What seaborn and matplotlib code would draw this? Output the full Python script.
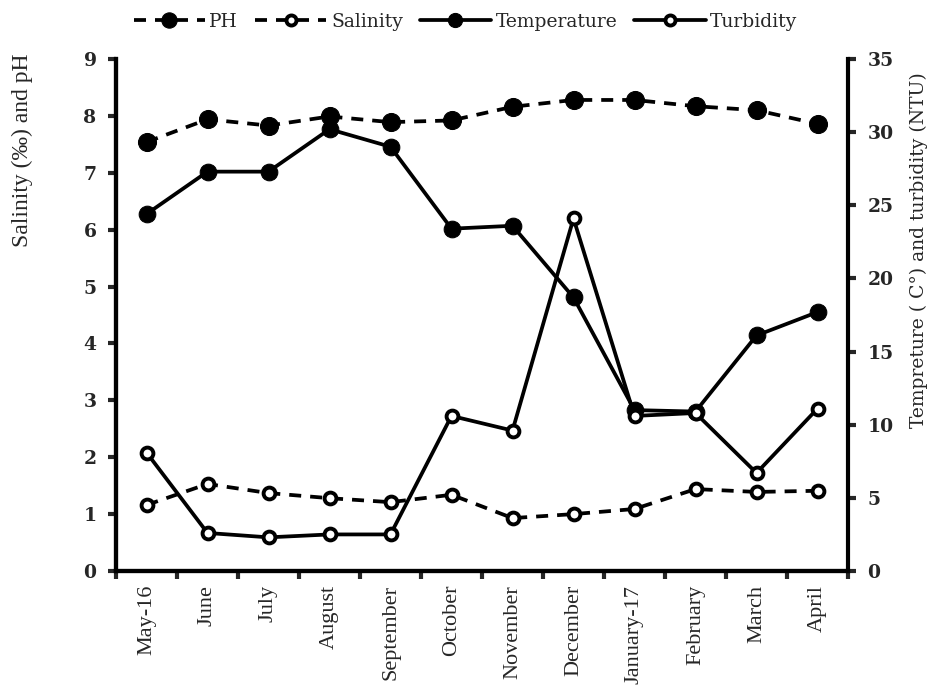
import numpy as np
import pandas as pd
import matplotlib
matplotlib.use("Agg")
import matplotlib.pyplot as plt
import seaborn as sns

months = ["May-16", "June", "July", "August", "September", "October",
          "November", "December", "January-17", "February", "March", "April"]
ph = [7.54, 7.94, 7.83, 7.99, 7.89, 7.92, 8.16, 8.28, 8.28, 8.17, 8.10, 7.86]
salinity = [1.16, 1.53, 1.37, 1.28, 1.21, 1.34, 0.93, 1.00, 1.09, 1.44, 1.39, 1.41]
temperature = [24.4, 27.3, 27.3, 30.2, 29.0, 23.4, 23.6, 18.7, 11.0, 10.9, 16.1, 17.7]
turbidity = [8.1, 2.6, 2.3, 2.5, 2.5, 10.6, 9.6, 24.1, 10.6, 10.8, 6.7, 11.1]

left_ticks = list(range(0, 10))
right_ticks = list(range(0, 40, 5))

sns.set_theme(style="ticks")
plt.rcParams['font.family'] = ['Liberation Serif', 'DejaVu Serif']

df = pd.DataFrame({"pos": np.arange(len(months)), "month": months, "PH": ph,
                   "Salinity": salinity, "Temperature": temperature,
                   "Turbidity": turbidity})

fig = plt.figure(figsize=(9.31, 6.85), dpi=100)
ax = fig.add_axes([116/931, 1 - 571/685, (848-116)/931, (571-59)/685])
ax2 = ax.twinx()

lw = 2.7
dash = (0, (3.2, 2.4))
sns.lineplot(data=df, x="pos", y="PH", ax=ax, color="black", lw=lw,
             linestyle=dash, marker="o", markersize=13, mfc="black", mec="black",
             sort=False, label="PH", legend=False)
sns.lineplot(data=df, x="pos", y="Salinity", ax=ax, color="black", lw=lw,
             linestyle=dash, marker="o", markersize=8.5, mfc="white", mec="black",
             mew=2.8, sort=False, label="Salinity", legend=False)
sns.lineplot(data=df, x="pos", y="Temperature", ax=ax2, color="black", lw=lw,
             linestyle="-", marker="o", markersize=12, mfc="black", mec="black",
             sort=False, label="Temperature", legend=False)
sns.lineplot(data=df, x="pos", y="Turbidity", ax=ax2, color="black", lw=lw,
             linestyle="-", marker="o", markersize=8.5, mfc="white", mec="black",
             mew=2.8, sort=False, label="Turbidity", legend=False)

ax.set_xlim(-0.5, len(months) - 0.5)
ax.set_ylim(0, 9)
ax2.set_ylim(0, 35)
ax.set_yticks(left_ticks)
ax2.set_yticks(right_ticks)

# tick marks at category boundaries, labels at centres
ax.set_xticks(np.arange(-0.5, len(months), 1.0))
ax.set_xticklabels([])
ax.set_xticks(np.arange(len(months)), minor=True)
ax.set_xticklabels(months, minor=True, rotation=90, fontsize=16)
ax.tick_params(axis="x", which="minor", length=0, pad=10)
ax.tick_params(axis="x", which="major", length=6, width=3, direction="out")
ax.tick_params(axis="y", length=6, width=3, direction="out", pad=8)
ax2.tick_params(axis="y", length=6, width=3, direction="out", pad=8)
for lab in ax.get_yticklabels() + ax2.get_yticklabels():
    lab.set_fontweight("bold")
    lab.set_family("DejaVu Serif")
    lab.set_fontsize(13.5)

ax.set_xlabel("")
ax.set_ylabel("Salinity (‰) and pH", fontsize=17, loc="top")
ax.yaxis.set_label_coords(-0.113, 1.01)
ax2.set_ylabel("Tempreture ( C°) and turbidity (NTU)", fontsize=13.5,
               family="DejaVu Serif", labelpad=12, y=0.627)

for a in (ax, ax2):
    a.spines["top"].set_visible(False)
    for s in ("left", "right", "bottom"):
        a.spines[s].set_linewidth(3)
        a.spines[s].set_color("black")
    a.grid(False)
ax.spines["right"].set_visible(False)

h1, l1 = ax.get_legend_handles_labels()
h2, l2 = ax2.get_legend_handles_labels()
fig.legend(h1 + h2, l1 + l2, loc="upper center", bbox_to_anchor=(0.5, 1.006),
           ncol=4, frameon=False, prop={"family": "DejaVu Serif", "size": 13.5},
           handlelength=3.8, handletextpad=0.25, columnspacing=0.9,
           markerscale=0.85)

fig.savefig("out.png", dpi=100)
